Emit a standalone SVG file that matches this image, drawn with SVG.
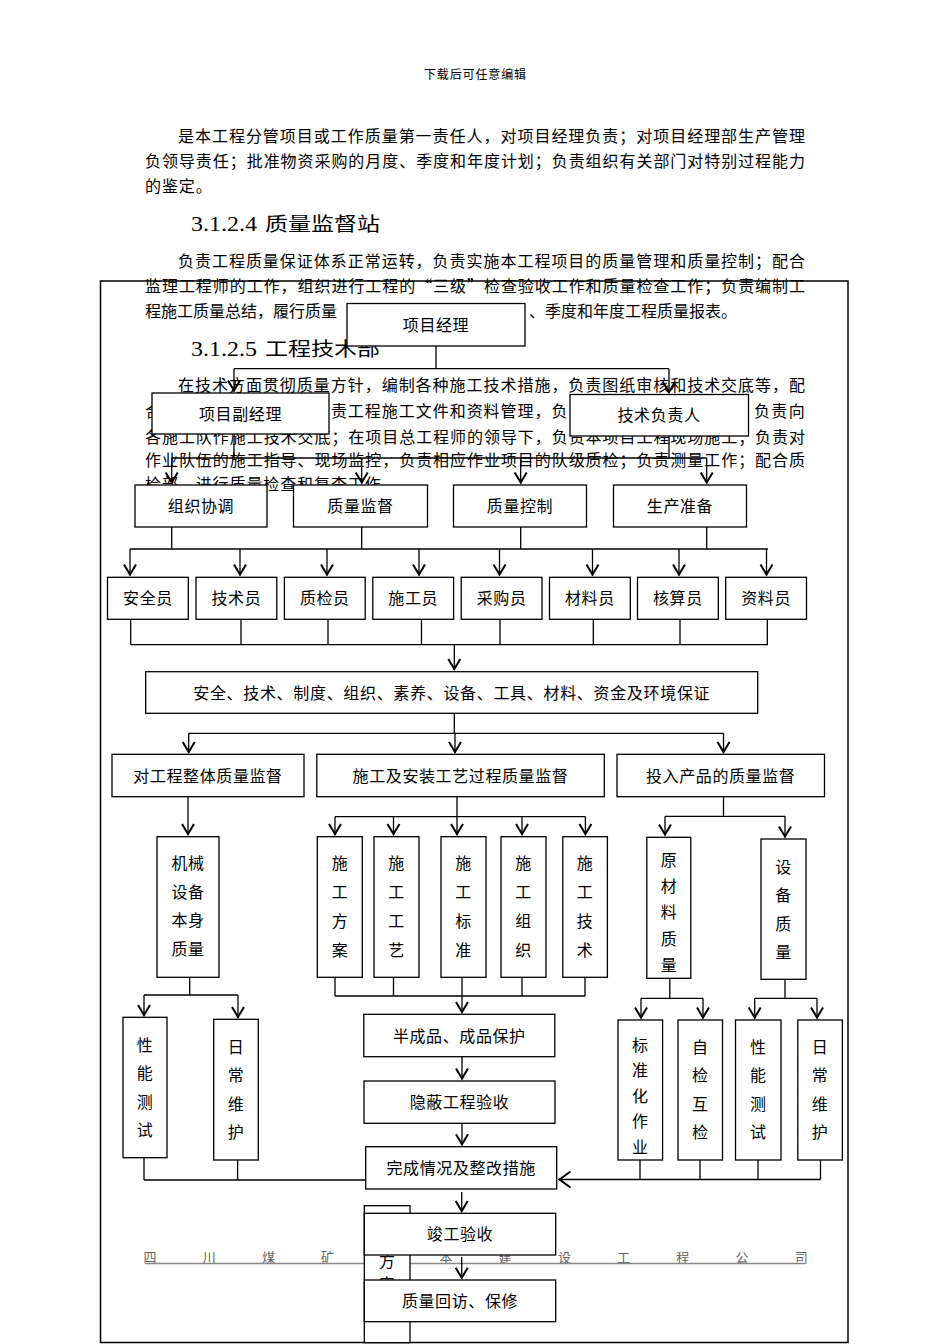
<svg xmlns="http://www.w3.org/2000/svg" width="950" height="1344" viewBox="0 0 950 1344">
<defs>
<style>
.pt{font-family:"Noto Sans CJK SC","Noto Sans CJK JP",sans-serif;font-size:16px;fill:#000}
.hd{font-family:"Noto Sans CJK SC","Noto Sans CJK JP",sans-serif;font-size:19px;fill:#000}
.hn{font-family:"Liberation Serif","DejaVu Serif",serif;font-size:22px;fill:#000}
.ft{font-family:"Noto Sans CJK SC","Noto Sans CJK JP",sans-serif;font-size:13px;fill:#666}
.bx{fill:#fff;stroke:#000;stroke-width:1.3}
.t{font-family:"Noto Sans CJK SC","Noto Sans CJK JP",sans-serif;font-size:16px;fill:#000;text-anchor:middle;letter-spacing:0.6px}
.ln{stroke:#000;stroke-width:1.3;fill:none}
.ar{stroke:#000;stroke-width:1.3;fill:none;marker-end:url(#v)}
</style>
<marker id="v" markerUnits="userSpaceOnUse" markerWidth="16" markerHeight="16" refX="12" refY="8" orient="auto" overflow="visible">
<path d="M1,2 L11,8 L1,14" fill="none" stroke="#000" stroke-width="2"/>
</marker>
<marker id="v2" markerUnits="userSpaceOnUse" markerWidth="18" markerHeight="20" refX="13" refY="10" orient="auto" overflow="visible">
<path d="M1,2 L12,10 L1,18" fill="none" stroke="#000" stroke-width="2"/>
</marker>
</defs>
<rect width="950" height="1344" fill="#fff"/>

<g id="page-text">
<text class="pt" x="475" y="79" text-anchor="middle" style="font-size:12px" textLength="102">下载后可任意编辑</text>
<text class="pt" x="178" y="142" textLength="627" lengthAdjust="spacing">是本工程分管项目或工作质量第一责任人，对项目经理负责；对项目经理部生产管理</text>
<text class="pt" x="145" y="167" textLength="660" lengthAdjust="spacing">负领导责任；批准物资采购的月度、季度和年度计划；负责组织有关部门对特别过程能力</text>
<text class="pt" x="145" y="192" letter-spacing="0.9">的鉴定。</text>
<text class="hn" x="191" y="231" textLength="66" lengthAdjust="spacingAndGlyphs">3.1.2.4</text>
<text class="hd" x="265" y="231" textLength="115" lengthAdjust="spacingAndGlyphs">质量监督站</text>
<text class="pt" x="178" y="267" textLength="627" lengthAdjust="spacing">负责工程质量保证体系正常运转，负责实施本工程项目的质量管理和质量控制；配合</text>
<text class="pt" x="145" y="292" textLength="660" lengthAdjust="spacing">监理工程师的工作，组织进行工程的“三级”检查验收工作和质量检查工作；负责编制工</text>
<text class="pt" x="145" y="317">程施工质量总结，履行质量</text>
<text class="pt" x="529" y="317">、季度和年度工程质量报表。</text>
<text class="hn" x="191" y="356" textLength="66" lengthAdjust="spacingAndGlyphs">3.1.2.5</text>
<text class="hd" x="265" y="356" textLength="115" lengthAdjust="spacingAndGlyphs">工程技术部</text>
<text class="pt" x="178" y="391" textLength="627" lengthAdjust="spacing">在技术方面贯彻质量方针，编制各种施工技术措施，负责图纸审核和技术交底等，配</text>
<text class="pt" x="145" y="417">合</text>
<text class="pt" x="330.9" y="417" textLength="236.6" lengthAdjust="spacing">责工程施工文件和资料管理，负</text>
<text class="pt" x="754" y="417" textLength="50.7" lengthAdjust="spacing">负责向</text>
<text class="pt" x="145" y="442.5" textLength="660" lengthAdjust="spacing">各施工队作施工技术交底；在项目总工程师的领导下，负责本项目工程现场施工；负责对</text>
<text class="pt" x="145" y="466" textLength="660" lengthAdjust="spacing">作业队伍的施工指导、现场监控，负责相应作业项目的队级质检；负责测量工作；配合质</text>
<text class="pt" x="145" y="489.5" letter-spacing="0.9">检部，进行质量检查和复查工作。</text>
</g>

<g id="footer">
<text class="ft" x="143.5 202.7 261.9 321.1" y="1262">四川煤矿</text>
<text class="ft" x="439.5 498.7 557.9 617.1 676.3 735.5 794.7" y="1262">本建设工程公司</text>
<line x1="145" y1="1263.5" x2="806" y2="1263.5" stroke="#888" stroke-width="1.5"/>
</g>

<rect id="frame" x="100.5" y="281" width="747.5" height="1061.5" fill="none" stroke="#000" stroke-width="1.5"/>

<g id="connectors">
<path class="ln" d="M436,346 V368.7 M234,368.7 H669 M234,434 V458 M669,436 V458 M171.7,458 H706.7"/>
<line class="ar" x1="234" y1="368.7" x2="234" y2="391.5"/>
<line class="ar" x1="669" y1="368.7" x2="669" y2="393"/>
<line class="ar" x1="171.7" y1="458" x2="171.7" y2="483.5"/>
<line class="ar" x1="361.7" y1="458" x2="361.7" y2="483.5"/>
<line class="ar" x1="520.7" y1="458" x2="520.7" y2="483.5"/>
<line class="ar" x1="706.7" y1="458" x2="706.7" y2="483.5"/>
<path class="ln" d="M171.7,527 V549 M361.7,527 V549 M520.7,527 V549 M706.7,527 V549 M130,549 H768"/>
<line class="ar" x1="130" y1="549" x2="130" y2="575.5"/>
<line class="ar" x1="240" y1="549" x2="240" y2="575.5"/>
<line class="ar" x1="327" y1="549" x2="327" y2="575.5"/>
<line class="ar" x1="419" y1="549" x2="419" y2="575.5"/>
<line class="ar" x1="499.5" y1="549" x2="499.5" y2="575.5"/>
<line class="ar" x1="592.5" y1="549" x2="592.5" y2="575.5"/>
<line class="ar" x1="679" y1="549" x2="679" y2="575.5"/>
<line class="ar" x1="766.5" y1="549" x2="766.5" y2="575.5"/>
<path class="ln" d="M130.7,619.3 V644.7 M241,619.3 V644.7 M328,619.3 V644.7 M421.5,619.3 V644.7 M500,619.3 V644.7 M593.3,619.3 V644.7 M680,619.3 V644.7 M767.3,619.3 V644.7 M130.7,644.7 H768"/>
<line class="ar" x1="454.3" y1="644.7" x2="454.3" y2="670"/>
<path class="ln" d="M454.3,713.3 V733.3 M188.7,733.3 H723.5"/>
<line class="ar" x1="188.7" y1="733.3" x2="188.7" y2="753"/>
<line class="ar" x1="455" y1="733.3" x2="455" y2="753"/>
<line class="ar" x1="723.5" y1="733.3" x2="723.5" y2="753"/>
<line class="ar" x1="188" y1="796.7" x2="188" y2="835"/>
<path class="ln" d="M457,796.7 V816.7 M335,816.7 H585.4"/>
<line class="ar" x1="335" y1="816.7" x2="335" y2="835"/>
<line class="ar" x1="393.5" y1="816.7" x2="393.5" y2="835"/>
<line class="ar" x1="457" y1="816.7" x2="457" y2="835"/>
<line class="ar" x1="522" y1="816.7" x2="522" y2="835"/>
<line class="ar" x1="585.4" y1="816.7" x2="585.4" y2="835"/>
<path class="ln" d="M723.5,796.7 V816.3 M665,816.3 H785"/>
<line class="ar" x1="665" y1="816.3" x2="665" y2="835.5"/>
<line class="ar" x1="785" y1="816.3" x2="785" y2="837.5"/>
<path class="ln" d="M189.7,977.3 V995 M144,995 H238"/>
<line class="ar" x1="144" y1="995" x2="144" y2="1016"/>
<line class="ar" x1="238" y1="995" x2="238" y2="1018"/>
<path class="ln" d="M335,977.3 V996 M393.5,977.3 V996 M462,977.3 V996 M522,977.3 V996 M585,977.3 V996 M335,996 H585"/>
<line class="ar" x1="462" y1="996" x2="462" y2="1013"/>
<line class="ar" x1="462" y1="1057" x2="462" y2="1079.5"/>
<line class="ar" x1="462" y1="1123.3" x2="462" y2="1145.3"/>
<path class="ln" d="M669.8,978.3 V998.3 M641,998.3 H703 M785,979.3 V998.3 M754.7,998.3 H817"/>
<line class="ar" x1="641" y1="998.3" x2="641" y2="1018.5"/>
<line class="ar" x1="703" y1="998.3" x2="703" y2="1018.5"/>
<line class="ar" x1="754.7" y1="998.3" x2="754.7" y2="1018.5"/>
<line class="ar" x1="817" y1="998.3" x2="817" y2="1018.5"/>
<path class="ln" d="M144,1157.7 V1180 M237.6,1160 V1180 M144,1180 H365.7"/>
<path class="ln" d="M640,1160 V1179.5 M700,1160 V1179.5 M758,1160 V1179.5 M820.5,1160 V1179.5"/>
<line x1="820.5" y1="1179.5" x2="558.5" y2="1179.5" stroke="#000" stroke-width="1.3" marker-end="url(#v2)"/>
<line class="ar" x1="461.7" y1="1192" x2="461.7" y2="1212"/>
<line class="ar" x1="461.7" y1="1257" x2="461.7" y2="1278.8"/>
</g>

<g id="n-xmjl"><rect class="bx" x="347" y="303.5" width="178" height="42.5"/><text class="t" x="436" y="331">项目经理</text></g>
<g id="n-xmfjl"><rect class="bx" x="152" y="393" width="177" height="41"/><text class="t" x="240.5" y="419.5">项目副经理</text></g>
<g id="n-jsfzr"><rect class="bx" x="570" y="394.5" width="178.5" height="41.5"/><text class="t" x="659" y="421">技术负责人</text></g>

<g id="n-zzxt"><rect class="bx" x="135" y="485" width="132" height="42"/><text class="t" x="201" y="512">组织协调</text></g>
<g id="n-zljd"><rect class="bx" x="293.5" y="485" width="134" height="42"/><text class="t" x="360.5" y="512">质量监督</text></g>
<g id="n-zlkz"><rect class="bx" x="453.5" y="485" width="133" height="42"/><text class="t" x="520" y="512">质量控制</text></g>
<g id="n-sczb"><rect class="bx" x="613.5" y="485" width="133" height="42"/><text class="t" x="680" y="512">生产准备</text></g>

<g id="n-aqy"><rect class="bx" x="107.5" y="577.3" width="80.8" height="42"/><text class="t" x="148" y="604.3">安全员</text></g>
<g id="n-jsy"><rect class="bx" x="196" y="577.3" width="80.8" height="42"/><text class="t" x="236.4" y="604.3">技术员</text></g>
<g id="n-zjy"><rect class="bx" x="284.4" y="577.3" width="80.8" height="42"/><text class="t" x="324.8" y="604.3">质检员</text></g>
<g id="n-sgy"><rect class="bx" x="372.8" y="577.3" width="80.8" height="42"/><text class="t" x="413.2" y="604.3">施工员</text></g>
<g id="n-cgy"><rect class="bx" x="461.2" y="577.3" width="80.8" height="42"/><text class="t" x="501.6" y="604.3">采购员</text></g>
<g id="n-cly"><rect class="bx" x="549.5" y="577.3" width="80.8" height="42"/><text class="t" x="589.9" y="604.3">材料员</text></g>
<g id="n-hsy"><rect class="bx" x="637.5" y="577.3" width="80.8" height="42"/><text class="t" x="677.9" y="604.3">核算员</text></g>
<g id="n-zly"><rect class="bx" x="725.7" y="577.3" width="80.8" height="42"/><text class="t" x="766.1" y="604.3">资料员</text></g>

<g id="n-bz"><rect class="bx" x="145.7" y="671.7" width="612" height="41.6"/><text class="t" x="451.7" y="698.5" textLength="517" lengthAdjust="spacing">安全、技术、制度、组织、素养、设备、工具、材料、资金及环境保证</text></g>

<g id="n-dgc"><rect class="bx" x="112" y="754.3" width="192" height="42.4"/><text class="t" x="208" y="781.5">对工程整体质量监督</text></g>
<g id="n-sgaz"><rect class="bx" x="316.8" y="754.3" width="287.5" height="42.4"/><text class="t" x="460.5" y="781.5">施工及安装工艺过程质量监督</text></g>
<g id="n-trcp"><rect class="bx" x="617" y="754.3" width="207.5" height="42.4"/><text class="t" x="720.7" y="781.5">投入产品的质量监督</text></g>

<g id="n-jxsb"><rect class="bx" x="157" y="836.7" width="62" height="140.6"/><text class="t" letter-spacing="0"><tspan x="188" y="869">机械</tspan><tspan x="188" y="897.5">设备</tspan><tspan x="188" y="926">本身</tspan><tspan x="188" y="954.5">质量</tspan></text></g>
<g id="n-sgfa"><rect class="bx" x="317.3" y="836.7" width="45" height="140.6"/><text class="t"><tspan x="340" y="869">施</tspan><tspan x="340" y="898">工</tspan><tspan x="340" y="927">方</tspan><tspan x="340" y="956">案</tspan></text></g>
<g id="n-sggy"><rect class="bx" x="374" y="836.7" width="45" height="140.6"/><text class="t"><tspan x="396.5" y="869">施</tspan><tspan x="396.5" y="898">工</tspan><tspan x="396.5" y="927">工</tspan><tspan x="396.5" y="956">艺</tspan></text></g>
<g id="n-sgbz"><rect class="bx" x="441" y="836.7" width="45" height="140.6"/><text class="t"><tspan x="463.5" y="869">施</tspan><tspan x="463.5" y="898">工</tspan><tspan x="463.5" y="927">标</tspan><tspan x="463.5" y="956">准</tspan></text></g>
<g id="n-sgzz"><rect class="bx" x="501" y="836.7" width="45" height="140.6"/><text class="t"><tspan x="523.5" y="869">施</tspan><tspan x="523.5" y="898">工</tspan><tspan x="523.5" y="927">组</tspan><tspan x="523.5" y="956">织</tspan></text></g>
<g id="n-sgjs"><rect class="bx" x="562.8" y="836.7" width="44.6" height="140.6"/><text class="t"><tspan x="585" y="869">施</tspan><tspan x="585" y="898">工</tspan><tspan x="585" y="927">技</tspan><tspan x="585" y="956">术</tspan></text></g>
<g id="n-ycl"><rect class="bx" x="646.8" y="837.3" width="44" height="141"/><text class="t"><tspan x="669" y="866">原</tspan><tspan x="669" y="892.2">材</tspan><tspan x="669" y="918.4">料</tspan><tspan x="669" y="944.6">质</tspan><tspan x="669" y="970.8">量</tspan></text></g>
<g id="n-sbzl"><rect class="bx" x="761" y="839" width="45" height="140.3"/><text class="t"><tspan x="783.5" y="872.7">设</tspan><tspan x="783.5" y="901.1">备</tspan><tspan x="783.5" y="929.5">质</tspan><tspan x="783.5" y="957.9">量</tspan></text></g>

<g id="n-xncs1"><rect class="bx" x="123" y="1017.3" width="44" height="140.4"/><text class="t"><tspan x="145" y="1051">性</tspan><tspan x="145" y="1079.4">能</tspan><tspan x="145" y="1107.8">测</tspan><tspan x="145" y="1136.2">试</tspan></text></g>
<g id="n-rcwh1"><rect class="bx" x="213.7" y="1019.3" width="44.6" height="140.7"/><text class="t"><tspan x="236" y="1052.7">日</tspan><tspan x="236" y="1081.1">常</tspan><tspan x="236" y="1109.5">维</tspan><tspan x="236" y="1137.9">护</tspan></text></g>

<g id="n-bcp"><rect class="bx" x="363.8" y="1014.3" width="191" height="42.4"/><text class="t" x="459.3" y="1041.5">半成品、成品保护</text></g>
<g id="n-yb"><rect class="bx" x="364" y="1081" width="191" height="42.3"/><text class="t" x="459.5" y="1108">隐蔽工程验收</text></g>
<g id="n-wcqk"><rect class="bx" x="365.7" y="1146.7" width="191" height="42.3"/><text class="t" x="461.2" y="1173.8">完成情况及整改措施</text></g>

<g id="n-bzh"><rect class="bx" x="618" y="1020" width="44.6" height="140"/><text class="t"><tspan x="640.3" y="1051">标</tspan><tspan x="640.3" y="1076.4">准</tspan><tspan x="640.3" y="1101.8">化</tspan><tspan x="640.3" y="1127.2">作</tspan><tspan x="640.3" y="1152.6">业</tspan></text></g>
<g id="n-zjhj"><rect class="bx" x="678" y="1020" width="44.5" height="140"/><text class="t"><tspan x="700.3" y="1052.7">自</tspan><tspan x="700.3" y="1081.1">检</tspan><tspan x="700.3" y="1109.5">互</tspan><tspan x="700.3" y="1137.9">检</tspan></text></g>
<g id="n-xncs2"><rect class="bx" x="735.5" y="1020" width="45.5" height="140"/><text class="t"><tspan x="758.3" y="1052.7">性</tspan><tspan x="758.3" y="1081.1">能</tspan><tspan x="758.3" y="1109.5">测</tspan><tspan x="758.3" y="1137.9">试</tspan></text></g>
<g id="n-rcwh2"><rect class="bx" x="797.8" y="1020" width="44.6" height="140"/><text class="t"><tspan x="820.1" y="1052.7">日</tspan><tspan x="820.1" y="1081.1">常</tspan><tspan x="820.1" y="1109.5">维</tspan><tspan x="820.1" y="1137.9">护</tspan></text></g>

<g id="n-hidden"><rect class="bx" x="364.3" y="1205.7" width="45.7" height="137"/><text class="t"><tspan x="387.2" y="1267">方</tspan><tspan x="387.2" y="1290">安</tspan></text></g>
<g id="n-jgys"><rect class="bx" x="364.3" y="1213.3" width="191.4" height="41.7"/><text class="t" x="460" y="1240">竣工验收</text></g>
<g id="n-zlhf"><rect class="bx" x="364.3" y="1280" width="191.4" height="41.7"/><text class="t" x="460" y="1307">质量回访、保修</text></g>
</svg>
